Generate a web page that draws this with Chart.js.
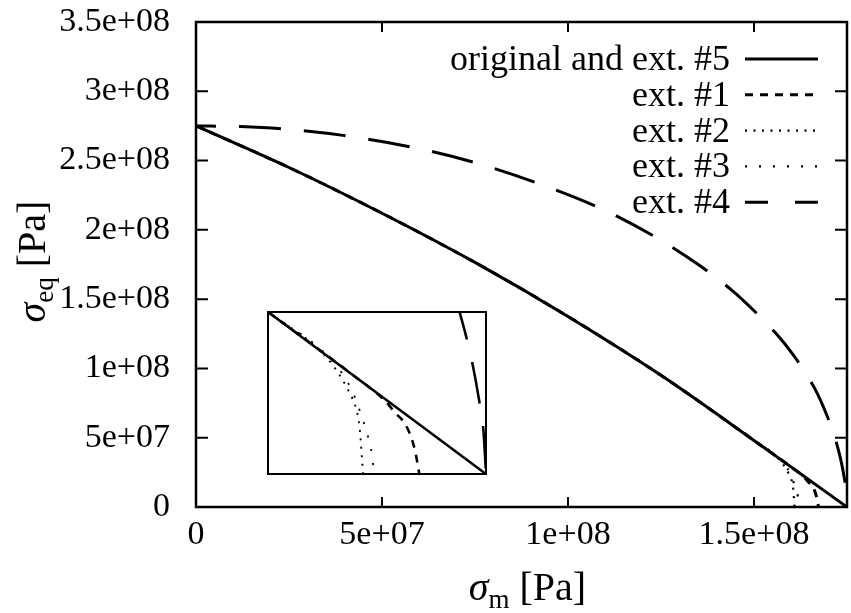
<!DOCTYPE html>
<html lang="en">
<head>
<meta charset="UTF-8">
<title>Equivalent stress vs mean stress</title>
<script src="https://cdn.jsdelivr.net/npm/chart.js"></script>
<style>
  body { margin: 0; background: #fff; }
  #wrap { position: relative; width: 851px; height: 613px; }
  #inset { position: absolute; left: 266px; top: 310px; }
</style>
</head>
<body>
<div id="wrap">
  <canvas id="chart" width="851" height="613"></canvas>
  <canvas id="inset" width="222" height="166"></canvas>
</div>
<script>
// ticks
const xTicks = [0, 5e7, 1e8, 1.5e8];
const xTickLabels = ['0', '5e+07', '1e+08', '1.5e+08'];
const yTicks = [0, 5e7, 1e8, 1.5e8, 2e8, 2.5e8, 3e8, 3.5e8];
const yTickLabels = ['0', '5e+07', '1e+08', '1.5e+08', '2e+08', '2.5e+08', '3e+08', '3.5e+08'];

const seriesLabels = ['original and ext. #5', 'ext. #1', 'ext. #2', 'ext. #3', 'ext. #4'];

// original and ext. #5
const origX = [0, 2.5e7, 5e7, 7.5e7, 1e8, 1.25e8, 1.5e8, 1.625e8, 1.75e8];
const origY = [2.75e8, 2.45e8, 2.12e8, 1.765e8, 1.375e8, 9.5e7, 4.8e7, 2.4e7, 0];

// ext. #1 (follows original, then bends down near the end)
const ext1X = [0, 2.5e7, 5e7, 7.5e7, 1e8, 1.25e8, 1.5e8, 1.6e8, 1.635e8, 1.6445e8, 1.659e8, 1.6685e8, 1.6735e8];
const ext1Y = [2.75e8, 2.45e8, 2.12e8, 1.765e8, 1.375e8, 9.5e7, 4.8e7, 2.88e7, 2.15e7, 1.85e7, 1.4e7, 7.1e6, 0];

// ext. #2
const ext2X = [0, 2.5e7, 5e7, 7.5e7, 1e8, 1.25e8, 1.5e8, 1.56e8, 1.5785e8, 1.592e8, 1.6015e8, 1.605e8, 1.6065e8, 1.609e8];
const ext2Y = [2.75e8, 2.45e8, 2.12e8, 1.765e8, 1.375e8, 9.5e7, 4.8e7, 3.65e7, 3.07e7, 2.48e7, 1.89e7, 1.4e7, 9.1e6, 0];

// ext. #3
const ext3X = [0, 2.5e7, 5e7, 7.5e7, 1e8, 1.25e8, 1.5e8, 1.57e8, 1.59e8, 1.5995e8, 1.607e8, 1.613e8, 1.618e8, 1.622e8];
const ext3Y = [2.75e8, 2.45e8, 2.12e8, 1.765e8, 1.375e8, 9.5e7, 4.8e7, 3.456e7, 2.78e7, 2.28e7, 1.74e7, 1.25e7, 7.6e6, 0];

// ext. #4
const ext4X = [0, 1.2e7, 2.5e7, 4e7, 5.75e7, 7.5e7, 9.3e7, 1.1e8, 1.24e8, 1.35e8, 1.44e8, 1.51e8, 1.56e8, 1.605e8,
               1.64e8, 1.67e8, 1.69e8, 1.71e8, 1.725e8, 1.735e8, 1.742e8, 1.747e8, 1.75e8];
const ext4Y = [2.75e8, 2.745e8, 2.725e8, 2.68e8, 2.6e8, 2.485e8, 2.325e8, 2.14e8, 1.94e8, 1.75e8, 1.565e8, 1.39e8, 1.25e8, 1.1e8,
               9.6e7, 8.2e7, 7e7, 5.6e7, 4.3e7, 3.2e7, 2.2e7, 1.3e7, 0];

// zoomed window of the inset
const insetX = [1.5e8, 1.75e8];
const insetY = [0, 4.8e7];

const FONT = "'Liberation Serif', 'Times New Roman', serif";
Chart.defaults.font.family = FONT;
Chart.defaults.font.size = 34;
Chart.defaults.color = '#000';

function pts(xs, ys) { return xs.map((x, i) => ({ x: x, y: ys[i] })); }

function makeDatasets(w) {
  return [
    { label: seriesLabels[0], data: pts(origX, origY), borderWidth: 3 * w },
    { label: seriesLabels[1], data: pts(ext1X, ext1Y), borderWidth: 3 * w, borderDash: [8, 7] },
    { label: seriesLabels[2], data: pts(ext2X, ext2Y), borderWidth: 2.2 * w, borderDash: [2, 6.5] },
    { label: seriesLabels[3], data: pts(ext3X, ext3Y), borderWidth: 2.2 * w, borderDash: [2, 12] },
    { label: seriesLabels[4], data: pts(ext4X, ext4Y), borderWidth: 3 * w, borderDash: [42, 23], borderDashOffset: 22, sampleDash: [23, 27] }
  ].map(d => Object.assign({ borderColor: '#000', pointRadius: 0, fill: false, cubicInterpolationMode: 'monotone' }, d));
}

// box round the plot, with gnuplot-style inward ticks
const framePlugin = {
  id: 'frame',
  afterDraw(chart, args, opts) {
    const { ctx, chartArea: a, scales } = chart;
    ctx.save();
    ctx.strokeStyle = '#000';
    ctx.lineWidth = opts.width;
    ctx.strokeRect(a.left, a.top, a.right - a.left, a.bottom - a.top);
    if (opts.ticks) {
      ctx.lineWidth = 2;
      ctx.beginPath();
      scales.x.ticks.forEach(t => {
        const px = scales.x.getPixelForValue(t.value);
        ctx.moveTo(px, a.bottom); ctx.lineTo(px, a.bottom - 10);
        ctx.moveTo(px, a.top); ctx.lineTo(px, a.top + 10);
      });
      scales.y.ticks.forEach(t => {
        const py = scales.y.getPixelForValue(t.value);
        ctx.moveTo(a.left, py); ctx.lineTo(a.left + 12, py);
        ctx.moveTo(a.right, py); ctx.lineTo(a.right - 12, py);
      });
      ctx.stroke();
    }
    ctx.restore();
  }
};

// key in the top right corner, text right aligned, sample on the right
const keyPlugin = {
  id: 'key',
  afterDraw(chart) {
    const { ctx, chartArea: a } = chart;
    ctx.save();
    ctx.font = '36px ' + FONT;
    ctx.textAlign = 'right';
    ctx.textBaseline = 'alphabetic';
    ctx.fillStyle = '#000';
    ctx.strokeStyle = '#000';
    chart.data.datasets.forEach((d, i) => {
      const y = a.top + 37 + i * 35.8;
      ctx.fillText(d.label, a.right - 117, y + 11);
      ctx.beginPath();
      ctx.setLineDash(d.sampleDash || d.borderDash || []);
      ctx.lineWidth = d.borderWidth;
      ctx.moveTo(a.right - 102, y);
      ctx.lineTo(a.right - 29, y);
      ctx.stroke();
    });
    ctx.restore();
  }
};

// axis titles with subscripts
function drawSigma(ctx, sub, cx, base) {
  const parts = [
    { t: '\u03c3', f: 'italic 40px ' + FONT, dy: 0 },
    { t: sub, f: '27px ' + FONT, dy: 8 },
    { t: ' [Pa]', f: '40px ' + FONT, dy: 0 }
  ];
  let total = 0;
  parts.forEach(p => { ctx.font = p.f; p.w = ctx.measureText(p.t).width; total += p.w; });
  let x = cx - total / 2;
  ctx.textAlign = 'left';
  ctx.textBaseline = 'alphabetic';
  parts.forEach(p => { ctx.font = p.f; ctx.fillText(p.t, x, base + p.dy); x += p.w; });
}

const titlePlugin = {
  id: 'titles',
  afterDraw(chart) {
    const { ctx, chartArea: a } = chart;
    ctx.save();
    ctx.fillStyle = '#000';
    drawSigma(ctx, 'm', (a.left + a.right) / 2 + 6, 600);
    ctx.translate(45, (a.top + a.bottom) / 2 - 3);
    ctx.rotate(-Math.PI / 2);
    drawSigma(ctx, 'eq', 0, 0);
    ctx.restore();
  }
};

new Chart(document.getElementById('chart'), {
  type: 'line',
  data: { datasets: makeDatasets(1) },
  options: {
    responsive: false,
    animation: false,
    layout: { padding: { top: 22, right: 4, left: 0, bottom: 0 } },
    plugins: { legend: { display: false }, tooltip: { enabled: false }, frame: { width: 2.5, ticks: true } },
    scales: {
      x: {
        type: 'linear', min: 0, max: 1.75e8,
        grid: { display: false }, border: { display: false },
        afterBuildTicks: s => { s.ticks = xTicks.map(v => ({ value: v })); },
        afterFit: s => { s.height = 106; s.paddingLeft = 0; s.paddingRight = 0; },
        ticks: { autoSkip: false, maxRotation: 0, padding: 0, callback: (v, i) => xTickLabels[i] }
      },
      y: {
        type: 'linear', min: 0, max: 3.5e8,
        grid: { display: false }, border: { display: false },
        afterBuildTicks: s => { s.ticks = yTicks.map(v => ({ value: v })); },
        afterFit: s => { s.width = 196; s.paddingTop = 0; s.paddingBottom = 0; },
        ticks: { autoSkip: false, padding: 18, callback: (v, i) => yTickLabels[i] }
      }
    }
  },
  plugins: [framePlugin, keyPlugin, titlePlugin]
});

// inset: zoom on the lower right end of the curves
new Chart(document.getElementById('inset'), {
  type: 'line',
  data: { datasets: makeDatasets(0.85) },
  options: {
    responsive: false,
    animation: false,
    layout: { padding: 2 },
    plugins: { legend: { display: false }, tooltip: { enabled: false }, frame: { width: 2, ticks: false } },
    scales: {
      x: { type: 'linear', min: insetX[0], max: insetX[1], display: false },
      y: { type: 'linear', min: insetY[0], max: insetY[1], display: false }
    }
  },
  plugins: [framePlugin]
});
</script>
</body>
</html>
